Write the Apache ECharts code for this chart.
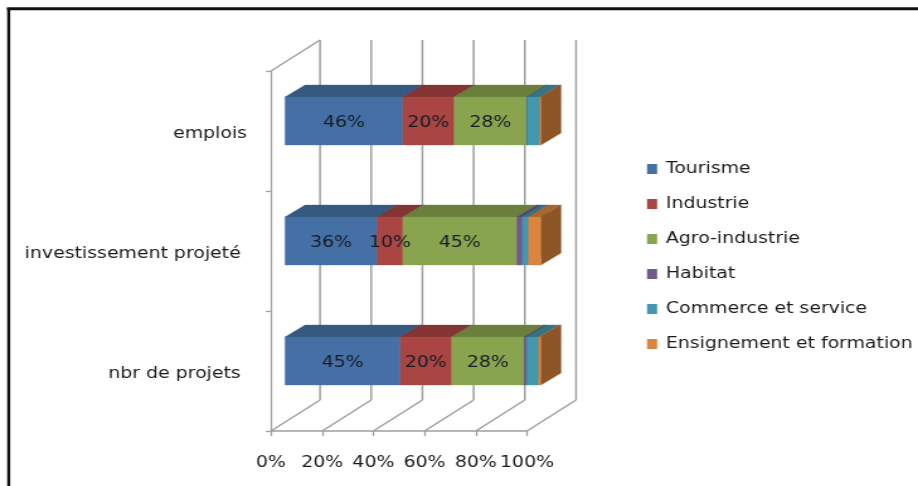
<!DOCTYPE html>
<html><head><meta charset="utf-8">
<style>html,body{margin:0;padding:0;background:#fff;overflow:hidden}#c{width:729px;height:486px;transform:scaleX(1.2593);transform-origin:0 0}</style>
<script src="https://cdn.jsdelivr.net/npm/echarts@6/dist/echarts.min.js"></script>
</head><body><div id="c"></div>
<script>
const categories = ['nbr de projets', 'investissement projeté', 'emplois'];
const seriesNames = ['Tourisme', 'Industrie', 'Agro-industrie', 'Habitat', 'Commerce et service', 'Ensignement et formation'];
const tourisme = [45, 36, 46];
const industrie = [20, 10, 20];
const agro = [28.4, 44.6, 28.4];
const habitat = [1, 2, 0.2];
const commerce = [4.6, 2.4, 4.8];
const enseignement = [1, 5, 0.6];
const xTicks = [0, 20, 40, 60, 80, 100];

const allValues = [tourisme, industrie, agro, habitat, commerce, enseignement];
const colors = ['#4470A6', '#A94543', '#89A44E', '#71588F', '#4198AF', '#DB843D'];
const topColors = ['#355980', '#823533', '#6A7F3C', '#57446E', '#327587', '#A9662F'];
const sideColors = ['#355980', '#823533', '#6A7F3C', '#57446E', '#327587', '#8E5627'];
const gridCol = '#A0A0A0';
const S = 918 / 729;         // the reference's glyphs and marks are stretched horizontally
const WALL = [49 / S, -31];      // depth of the 3D box
const BAR_OFF = [14 / S, -10];   // front of the bars inside the box
const BAR_D = [20 / S, -12];     // depth of each bar
const BAR_H = 48;

function pt(p, d) { return [p[0] + d[0], p[1] + d[1]]; }

function stackedData(i) {
  return categories.map((c, k) => {
    let start = 0;
    for (let j = 0; j < i; j++) start += allValues[j][k];
    return [k, start, start + allValues[i][k]];
  });
}

function segment(idx) {
  return function (params, api) {
    const cat = api.value(0), s = api.value(1), e = api.value(2);
    const a = pt(api.coord([s, cat]), BAR_OFF);
    const b = pt(api.coord([e, cat]), BAR_OFF);
    const y0 = a[1] - BAR_H / 2, y1 = a[1] + BAR_H / 2;
    const f = [[a[0], y0], [b[0], y0], [b[0], y1], [a[0], y1]];
    const t = [[a[0], y0], [b[0], y0], pt([b[0], y0], BAR_D), pt([a[0], y0], BAR_D)];
    const r = [[b[0], y0], [b[0], y1], pt([b[0], y1], BAR_D), pt([b[0], y0], BAR_D)];
    const poly = (points, fill) => ({ type: 'polygon', shape: { points }, style: { fill, stroke: fill, lineWidth: 0.3 } });
    return { type: 'group', children: [poly(t, topColors[idx]), poly(r, sideColors[idx]), poly(f, colors[idx])] };
  };
}

const series = [{
  type: 'custom', name: 'walls', silent: true, z: 1,
  coordinateSystem: 'cartesian2d', clip: false,
  encode: { x: 0, y: 1 },
  data: xTicks.map(t => [t, 0]),
  renderItem(params, api) {
    const t = api.value(0);
    const band = api.size([0, 1])[1];
    const c0 = api.coord([t, 0]), c2 = api.coord([t, 2]);
    const base = [c0[0], c0[1] + band / 2];
    const top = [c2[0], c2[1] - band / 2];
    const line = (p, q, w) => ({ type: 'line', shape: { x1: p[0], y1: p[1], x2: q[0], y2: q[1] }, style: { stroke: gridCol, lineWidth: w } });
    const children = [
      line(base, pt(base, WALL), 1.5),
      line(pt(base, WALL), pt(top, WALL), 1.5)
    ];
    if (t === 0) children.push(line(top, pt(top, WALL), 1.5));
    return { type: 'group', children };
  }
}];

seriesNames.forEach((name, i) => {
  series.push({
    type: 'custom', name, z: 2 + i, clip: false,
    coordinateSystem: 'cartesian2d',
    itemStyle: { color: colors[i] },
    encode: { x: [1, 2], y: 0 },
    data: stackedData(i), renderItem: segment(i)
  });
});

series.push({
  type: 'custom', name: 'labels', silent: true, z: 20, clip: false,
  coordinateSystem: 'cartesian2d',
  encode: { x: [1, 2], y: 0 },
  data: [0, 1, 2].flatMap(i => stackedData(i)),
  renderItem(params, api) {
    const cat = api.value(0), s = api.value(1), e = api.value(2);
    const a = pt(api.coord([s, cat]), BAR_OFF);
    const b = pt(api.coord([e, cat]), BAR_OFF);
    return {
      type: 'text',
      style: {
        text: Math.round(e - s) + '%', x: (a[0] + b[0]) / 2, y: a[1] + 2,
        align: 'center', verticalAlign: 'middle',
        font: '15px "DejaVu Sans"', fill: '#151c26'
      }
    };
  }
});

const chart = echarts.init(document.getElementById('c'), null, { renderer: 'canvas' });
chart.setOption({
  animation: false,
  backgroundColor: '#fff',
  textStyle: { fontFamily: 'DejaVu Sans' },
  graphic: [
    { type: 'line', shape: { x1: 8.7 / S, y1: 8, x2: 8.7 / S, y2: 486 }, style: { stroke: '#111', lineWidth: 2.4 } },
    { type: 'line', shape: { x1: 7 / S, y1: 8.7, x2: 729, y2: 8.7 }, style: { stroke: '#111', lineWidth: 3 } }
  ],
  grid: { left: 271 / S, top: 71, width: 256 / S, height: 360 },
  xAxis: {
    type: 'value', min: 0, max: 100, interval: 20,
    axisLabel: { formatter: '{value}%', fontSize: 15, color: '#1a1a1a', margin: 25 },
    axisLine: { show: true, lineStyle: { color: gridCol, width: 1.5 } },
    axisTick: { show: true, length: 5, lineStyle: { color: gridCol, width: 1.3 } },
    splitLine: { show: false }
  },
  yAxis: {
    type: 'category', data: categories,
    axisLabel: {
      fontSize: 15, color: '#1a1a1a', margin: 24 / S,
      formatter: v => v === 'emplois' ? `{e|${v}}` : `{p|${v}}`,
      rich: {
        e: { fontSize: 15, color: '#1a1a1a', fontFamily: 'DejaVu Sans', padding: [6, 0, 0, 0] },
        p: { fontSize: 15, color: '#1a1a1a', fontFamily: 'DejaVu Sans', padding: [6, 5, 0, 0] }
      }
    },
    axisLine: { show: true, lineStyle: { color: gridCol, width: 1.3 } },
    axisTick: { show: true, length: 4, lineStyle: { color: gridCol, width: 1.3 } },
    splitLine: { show: false }
  },
  legend: {
    orient: 'vertical', left: 647 / S - 5, top: 155, itemWidth: 8, itemHeight: 10, itemGap: 17,
    icon: 'rect', data: seriesNames,
    textStyle: { fontSize: 15, color: '#1a1a1a', padding: [0, 0, 0, 2], lineHeight: 18 }
  },
  series
});
</script></body></html>
